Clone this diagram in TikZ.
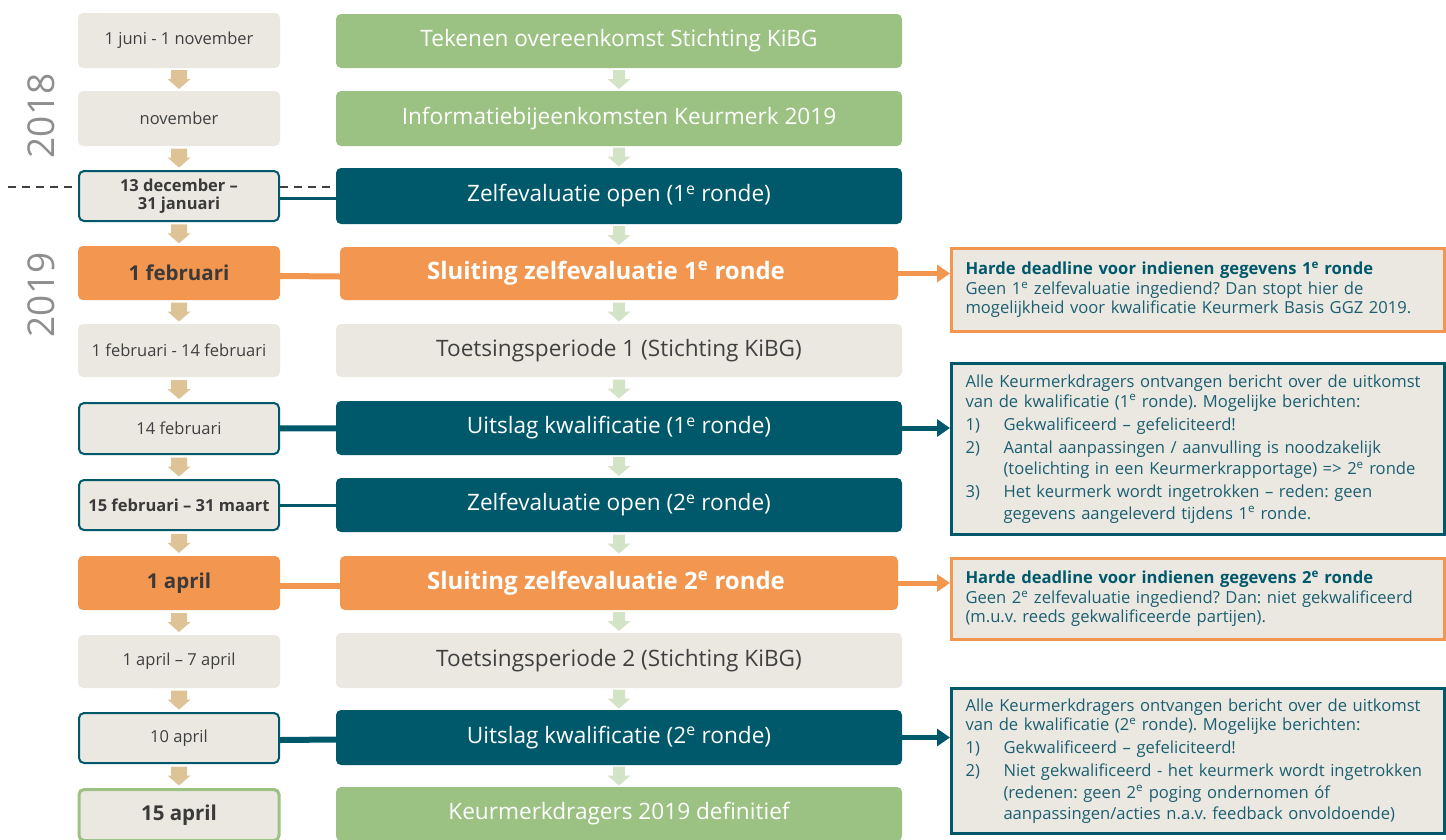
\documentclass[tikz,border=0pt]{standalone}
\usepackage{fontspec}
\setmainfont{Open Sans}
\frenchspacing
\usetikzlibrary{arrows.meta,calc}
\definecolor{boxgray}{HTML}{EBE8E2}
\definecolor{kteal}{HTML}{00586B}
\definecolor{korange}{HTML}{F29650}
\definecolor{kgreen}{HTML}{9CC283}
\definecolor{ktan}{HTML}{DEC397}
\definecolor{klgreen}{HTML}{D3E3C6}
\definecolor{txtgray}{HTML}{404040}
\definecolor{yeargray}{HTML}{8E8E8E}
\definecolor{rtext}{HTML}{1B5F70}
\newcommand\dnarr[4]{\fill[#3] ($(#1.south)!0.5!(#2.north)$) ++(-#4,9.5pt) -- ++(2*#4,0pt) -- ++(0pt,-9pt) -- ++(11.5pt-#4,0pt) -- ++(-11.5pt,-10pt) -- ++(-11.5pt,10pt) -- ++(11.5pt-#4,0pt) -- cycle;}
\newcommand\itm[1]{\makebox[38pt][l]{#1}}
\tikzset{
  lbox/.style={rounded corners=5pt, fill=boxgray, minimum width=202pt, inner sep=0pt, align=center, text=txtgray, font=\fontsize{16.5}{18}\selectfont},
  lout/.style={lbox, draw=kteal, line width=2pt, minimum width=200pt},
  lbold/.style={font=\fontsize{16.5}{18}\bfseries\selectfont, text=txtgray!90!black},
  lbig/.style={font=\fontsize{20.5}{22}\bfseries\selectfont, text=txtgray!90!black},
  mbox/.style={rounded corners=5pt, minimum width=566pt, inner sep=0pt, align=center, text=white, font=\fontsize{22.6}{26}\selectfont},
  mbold/.style={font=\fontsize{24}{26}\bfseries\selectfont},
  rbox/.style={anchor=north west, fill=boxgray, line width=3pt, minimum width=493pt, text width=465pt, inner xsep=14pt, inner ysep=0pt, align=left, text=rtext, font=\fontsize{16.6}{19.5}\selectfont},
  tconn/.style={draw=kteal},
  oconn/.style={draw=korange},
  rarrow/.style={line width=5pt, -{Triangle[length=13pt,width=17pt]}},
}
\begin{document}
\begin{tikzpicture}[x=1pt,y=-1pt]
\useasboundingbox (0,0) rectangle (1446,839);
\clip (0,0) rectangle (1446,839);
% year labels
\node[rotate=90, text=yeargray, font=\fontsize{37}{40}\selectfont, inner sep=0pt] (y2018) at (41,116) {2018};
\node[rotate=90, text=yeargray, font=\fontsize{37}{40}\selectfont, inner sep=0pt] (y2019) at (41,295) {2019};
% dashed year separator
\coordinate (dl) at (8,187);
% left column
\node[lbox, minimum height=55pt] (l1) at (179,40.5) {1 juni - 1 november};
\node[lbox, minimum height=55pt] (l2) at (179,118.5) {november};
\node[lout, lbold, minimum height=50pt] (l3) at (179,196) {13 december –\\31 januari};
\node[lbox, lbig, fill=korange, minimum height=54pt] (l4) at (179,273) {1 februari};
\node[lbox, minimum height=53pt] (l5) at (179,350.5) {1 februari - 14 februari};
\node[lout, minimum height=51pt] (l6) at (179,428.5) {14 februari};
\node[lout, lbold, minimum height=50pt] (l7) at (179,505) {15 februari – 31 maart};
\node[lbox, lbig, fill=korange, minimum height=54pt] (l8) at (179,583) {1 april};
\node[lbox, minimum height=53pt] (l9) at (179,661.5) {1 april – 7 april};
\node[lout, minimum height=50pt] (l10) at (179,738) {10 april};
\node[lout, lbig, draw=kgreen, line width=3pt, minimum height=51pt] (l11) at (179,815) {15 april};
% middle column
\node[mbox, fill=kgreen, minimum height=54pt] (m1) at (619,41) {Tekenen overeenkomst Stichting KiBG};
\node[mbox, fill=kgreen, minimum height=55pt] (m2) at (619,118.5) {Informatiebijeenkomsten Keurmerk 2019};
\node[mbox, fill=kteal, minimum height=56pt] (m3) at (619,196) {Zelfevaluatie open (1\textsuperscript{e} ronde)};
\node[mbox, mbold, fill=korange, minimum width=558pt, minimum height=53pt] (m4) at (619,273.5) {Sluiting zelfevaluatie 1\textsuperscript{e} ronde\hspace*{26pt}};
\node[mbox, fill=boxgray, text=txtgray, minimum height=53pt] (m5) at (619,350.5) {Toetsingsperiode 1 (Stichting KiBG)};
\node[mbox, fill=kteal, minimum height=54pt] (m6) at (619,428) {Uitslag kwalificatie (1\textsuperscript{e} ronde)};
\node[mbox, fill=kteal, minimum height=54pt] (m7) at (619,505) {Zelfevaluatie open (2\textsuperscript{e} ronde)};
\node[mbox, mbold, fill=korange, minimum width=558pt, minimum height=54pt] (m8) at (619,583) {Sluiting zelfevaluatie 2\textsuperscript{e} ronde\hspace*{26pt}};
\node[mbox, fill=boxgray, text=txtgray, minimum height=55pt] (m9) at (619,660.5) {Toetsingsperiode 2 (Stichting KiBG)};
\node[mbox, fill=kteal, minimum height=55pt] (m10) at (619,737.5) {Uitslag kwalificatie (2\textsuperscript{e} ronde)};
\node[mbox, fill=kgreen, minimum height=54pt] (m11) at (619,814) {Keurmerkdragers 2019 definitief};
% right boxes
\node[rbox, draw=korange, minimum height=83pt] (r1) at (950,247) {\textbf{\color{kteal}Harde deadline voor indienen gegevens 1\textsuperscript{e} ronde}\\Geen 1\textsuperscript{e} zelfevaluatie ingediend? Dan stopt hier de\\mogelijkheid voor kwalificatie Keurmerk Basis GGZ 2019.};
\node[rbox, draw=kteal, minimum height=171pt] (r2) at (950,362) {Alle Keurmerkdragers ontvangen bericht over de uitkomst\\van de kwalificatie (1\textsuperscript{e} ronde). Mogelijke berichten:\\[3.5pt]\itm{1)}Gekwalificeerd – gefeliciteerd!\\[3.5pt]\itm{2)}Aantal aanpassingen / aanvulling is noodzakelijk\\[2pt]\itm{}(toelichting in een Keurmerkrapportage) => 2\textsuperscript{e} ronde\\[3.5pt]\itm{3)}Het keurmerk wordt ingetrokken – reden: geen\\[2pt]\itm{}gegevens aangeleverd tijdens 1\textsuperscript{e} ronde.};
\node[rbox, draw=korange, minimum height=81pt] (r3) at (950,557) {\textbf{\color{kteal}Harde deadline voor indienen gegevens 2\textsuperscript{e} ronde}\\Geen 2\textsuperscript{e} zelfevaluatie ingediend? Dan: niet gekwalificeerd\\(m.u.v. reeds gekwalificeerde partijen).};
\node[rbox, draw=kteal, minimum height=145pt] (r4) at (950,687) {Alle Keurmerkdragers ontvangen bericht over de uitkomst\\van de kwalificatie (2\textsuperscript{e} ronde). Mogelijke berichten:\\[3.5pt]\itm{1)}Gekwalificeerd – gefeliciteerd!\\[3.5pt]\itm{2)}Niet gekwalificeerd - het keurmerk wordt ingetrokken\\[2pt]\itm{}(redenen: geen 2\textsuperscript{e} poging ondernomen óf\\[2pt]\itm{}aanpassingen/acties n.a.v. feedback onvoldoende)};
% down arrows
\foreach \a/\b in {l1/l2,l2/l3,l3/l4,l4/l5,l5/l6,l6/l7,l7/l8,l8/l9,l9/l10,l10/l11}{\dnarr{\a}{\b}{ktan}{8pt}}
\foreach \a/\b in {m1/m2,m2/m3,m3/m4,m4/m5,m5/m6,m6/m7,m7/m8,m8/m9,m9/m10,m10/m11}{\dnarr{\a}{\b}{klgreen}{6pt}}
% dashed separator
\draw[dashed, line width=1.2pt, dash pattern=on 8pt off 6pt, txtgray] (dl) -- (l3.west |- dl);
\draw[dashed, line width=1.2pt, dash pattern=on 8pt off 6pt, txtgray] (l3.east |- dl) -- (m3.west |- dl);
% connectors left-middle
\draw[tconn, line width=3pt] ([yshift=-2pt]l3.east) -- ([yshift=-2pt]m3.west);
\draw[oconn, line width=6pt] ([yshift=-3pt]l4.east) -- ([yshift=-3pt]m4.west);
\draw[tconn, line width=6pt] (l6) -- (m6);
\draw[tconn, line width=3pt] (l7) -- (m7);
\draw[oconn, line width=6pt] ([yshift=-3pt]l8.east) -- ([yshift=-3pt]m8.west);
\draw[tconn, line width=6pt] ([yshift=-2pt]l10.east) -- ([yshift=-2pt]m10.west);
% connectors middle-right
\draw[rarrow, korange] (m4.east) -- (r1.west |- m4.east);
\draw[rarrow, kteal] (m6.east) -- (r2.west |- m6.east);
\draw[rarrow, korange] (m8.east) -- (r3.west |- m8.east);
\draw[rarrow, kteal] (m10.east) -- (r4.west |- m10.east);
\end{tikzpicture}
\end{document}
